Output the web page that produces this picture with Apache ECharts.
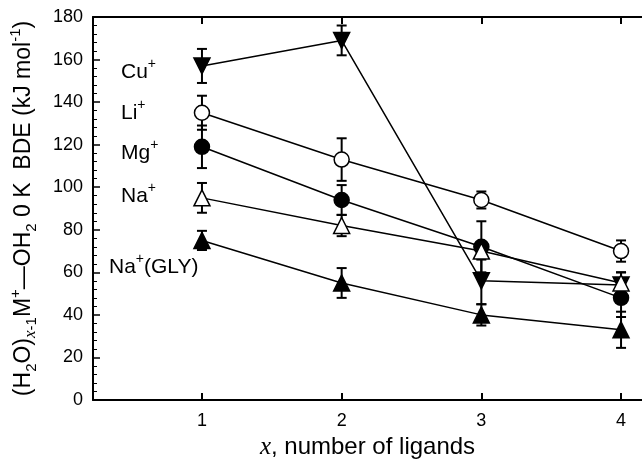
<!DOCTYPE html>
<html>
<head>
<meta charset="utf-8">
<script src="https://cdn.jsdelivr.net/npm/echarts@6/dist/echarts.min.js"></script>
<style>
html, body { margin: 0; padding: 0; background: #fff; }
#chart { width: 642px; height: 460px; }
</style>
</head>
<body>
<div id="chart"></div>
<script>
// x = number of ligands
var ligands = [1, 2, 3, 4];

// BDE values (kJ/mol) and error bars
var cuBDE = [157, 169, 56, 54];
var cuErr = [8, 7, 11, 6];
var liBDE = [135, 113, 94, 70];
var liErr = [8, 10, 4, 5];
var mgBDE = [119, 94, 72, 48];
var mgErr = [10, 7, 12, 9];
var naBDE = [95, 82, 70, 55];
var naErr = [7, 5, 4, 5];
var glyBDE = [75, 55, 40, 33];
var glyErr = [4.5, 7, 5, 8.5];

var yTicks = [0, 20, 40, 60, 80, 100, 120, 140, 160, 180];

var FONT = 'Liberation Sans, Arial, sans-serif';
var SERIF = 'Liberation Serif, Times New Roman, serif';

function pts(vals) {
    var d = [];
    for (var i = 0; i < vals.length; i++) d.push([ligands[i], vals[i]]);
    return d;
}

function errorBars(vals, errs) {
    var d = [];
    for (var i = 0; i < vals.length; i++) {
        d.push([ligands[i], vals[i] - errs[i], vals[i] + errs[i]]);
    }
    return {
        type: 'custom',
        silent: true,
        z: 1,
        encode: {x: 0, y: [1, 2]},
        data: d,
        renderItem: function(params, api) {
            var lo = api.coord([api.value(0), api.value(1)]);
            var hi = api.coord([api.value(0), api.value(2)]);
            var w = 5;
            var st = {stroke: '#000', lineWidth: 2};
            return {
                type: 'group',
                children: [
                    {type: 'line', shape: {x1: hi[0], y1: hi[1], x2: lo[0], y2: lo[1]}, style: st},
                    {type: 'line', shape: {x1: hi[0] - w, y1: hi[1], x2: hi[0] + w, y2: hi[1]}, style: st},
                    {type: 'line', shape: {x1: lo[0] - w, y1: lo[1], x2: lo[0] + w, y2: lo[1]}, style: st}
                ]
            };
        }
    };
}

function lineSeries(name, vals, symbol, filled, rotate) {
    return {
        name: name,
        type: 'line',
        z: 3,
        data: pts(vals),
        symbol: symbol,
        symbolSize: symbol == 'circle' ? 15 : 16,
        symbolRotate: rotate || 0,
        lineStyle: {color: '#000', width: 1.5},
        itemStyle: {color: filled ? '#000' : '#fff', borderColor: '#000', borderWidth: 1.5},
        emphasis: {disabled: true},
        animation: false
    };
}

var supRich = {
    t: {fontFamily: FONT, fontSize: 21, lineHeight: 30, color: '#000'},
    sup: {fontFamily: FONT, fontSize: 14, lineHeight: 16, verticalAlign: 'top', color: '#000'}
};

function ionLabel(text, left, top) {
    return {
        type: 'text',
        left: left,
        top: top,
        style: {text: text, rich: supRich, fill: '#000'}
    };
}

var chart = echarts.init(document.getElementById('chart'));

var option = {
    backgroundColor: '#fff',
    animation: false,
    grid: {left: 93, right: 0, top: 17, bottom: 60, outerBoundsMode: 'none', containLabel: false},
    xAxis: [{
        type: 'value',
        min: 0.22,
        max: 4.15,
        axisLine: {lineStyle: {color: '#000', width: 2}},
        axisTick: {inside: true, length: 7, customValues: ligands, lineStyle: {color: '#000', width: 2}},
        axisLabel: {
            color: '#000', fontFamily: FONT, fontSize: 18, margin: 12,
            customValues: ligands
        },
        splitLine: {show: false},
        name: '{i|x}{t|, number of ligands}',
        nameLocation: 'middle',
        nameGap: 32,
        nameTextStyle: {
            rich: {
                i: {fontFamily: SERIF, fontStyle: 'italic', fontSize: 25, color: '#000'},
                t: {fontFamily: FONT, fontSize: 24, color: '#000'}
            }
        }
    }, {
        type: 'value',
        position: 'top',
        min: 0.22,
        max: 4.15,
        axisLine: {lineStyle: {color: '#000', width: 2}},
        axisTick: {inside: true, length: 7, customValues: ligands, lineStyle: {color: '#000', width: 2}},
        axisLabel: {show: false},
        splitLine: {show: false}
    }],
    yAxis: [{
        type: 'value',
        min: 0,
        max: 180,
        interval: 20,
        axisLine: {show: true, lineStyle: {color: '#000', width: 2}},
        axisTick: {inside: true, length: 7, lineStyle: {color: '#000', width: 1.5}},
        minorTick: {show: true, splitNumber: 5, length: 4, lineStyle: {color: '#000', width: 1}},
        axisLabel: {
            color: '#000', fontFamily: FONT, fontSize: 18, margin: 10,
            formatter: function(v) { return yTicks.indexOf(v) >= 0 ? String(v) : ''; }
        },
        splitLine: {show: false},
        name: '{t|(H}{sub|2}{t|O)}{subi|x}{sub|-1}{t|M}{sup|+}{t|\u2014OH}{sub|2}{t| 0 K  BDE (kJ mol}{sup|-1}{t|)}',
        nameLocation: 'middle',
        nameRotate: 90,
        nameGap: 54,
        nameTextStyle: {
            rich: {
                t: {fontFamily: FONT, fontSize: 23, lineHeight: 31, color: '#000'},
                sub: {fontFamily: FONT, fontSize: 15, lineHeight: 17, verticalAlign: 'bottom', color: '#000'},
                subi: {fontFamily: SERIF, fontStyle: 'italic', fontSize: 17, lineHeight: 17, verticalAlign: 'bottom', color: '#000'},
                sup: {fontFamily: FONT, fontSize: 15, lineHeight: 17, verticalAlign: 'top', color: '#000'}
            }
        }
    }],
    graphic: [
        ionLabel('{t|Cu}{sup|+}', 121, 57),
        ionLabel('{t|Li}{sup|+}', 121, 98),
        ionLabel('{t|Mg}{sup|+}', 121, 138),
        ionLabel('{t|Na}{sup|+}', 121, 181),
        ionLabel('{t|Na}{sup|+}{t|(GLY)}', 109, 252)
    ],
    series: [
        errorBars(cuBDE, cuErr),
        errorBars(liBDE, liErr),
        errorBars(mgBDE, mgErr),
        errorBars(naBDE, naErr),
        errorBars(glyBDE, glyErr),
        lineSeries('Cu+', cuBDE, 'triangle', true, 180),
        lineSeries('Li+', liBDE, 'circle', false),
        lineSeries('Mg+', mgBDE, 'circle', true),
        lineSeries('Na+', naBDE, 'triangle', false),
        lineSeries('Na+(GLY)', glyBDE, 'triangle', true)
    ]
};

chart.setOption(option);
</script>
</body>
</html>
